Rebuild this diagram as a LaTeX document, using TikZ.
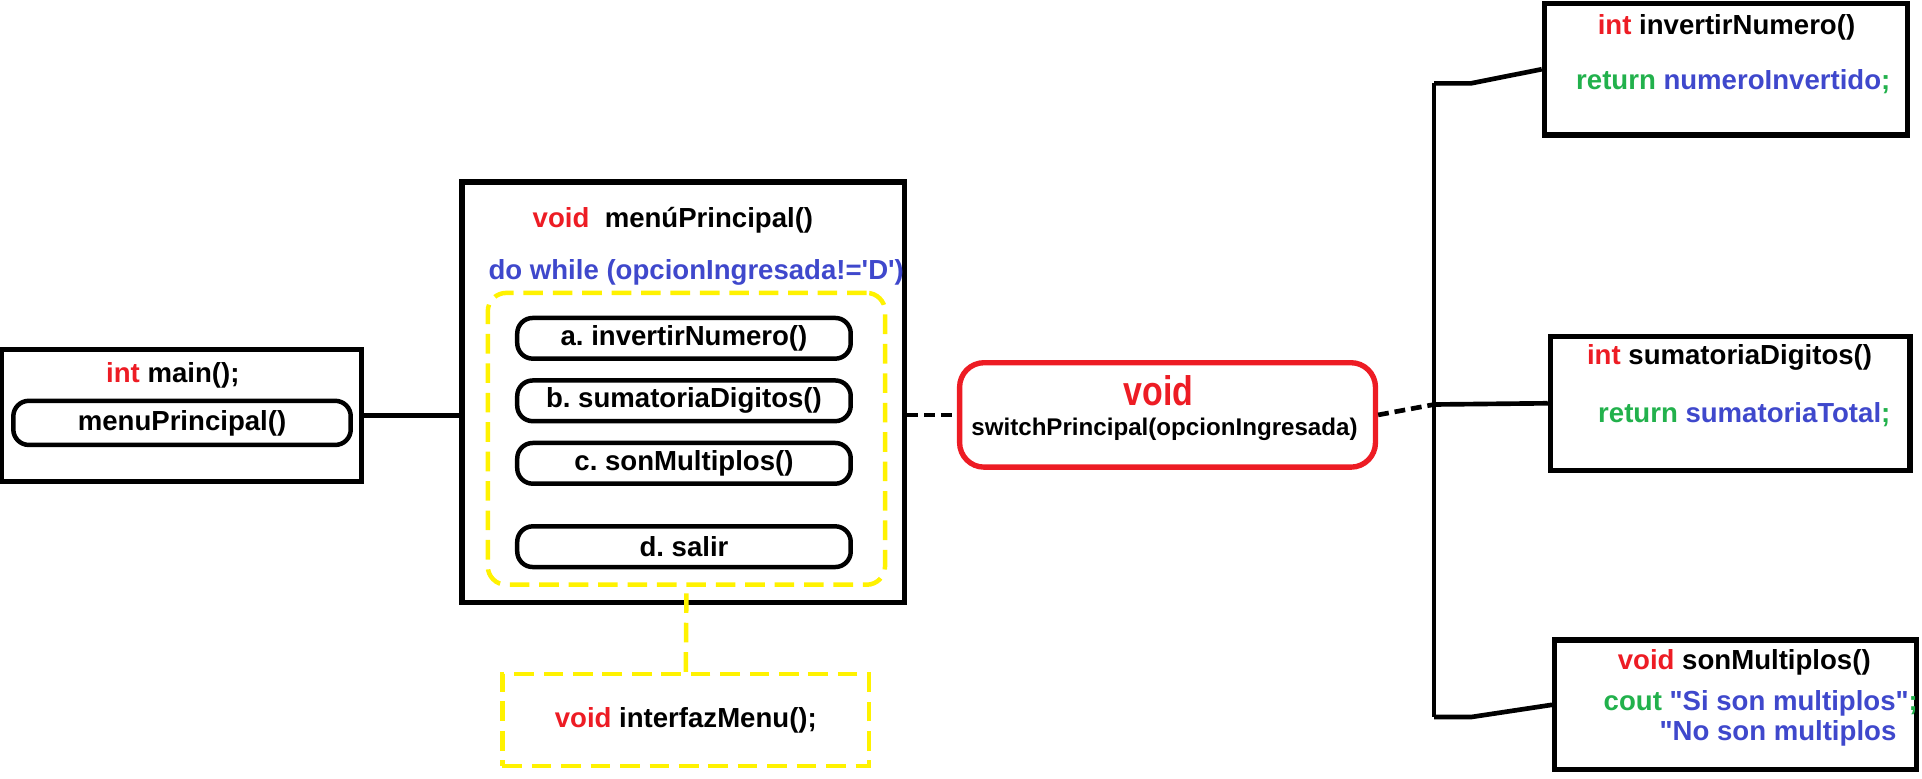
\documentclass[tikz,border=0pt]{standalone}
\usepackage{graphicx}
\usepackage{fontspec}
\setmainfont{Liberation Sans}
\frenchspacing
\definecolor{rojo}{RGB}{237,28,36}
\definecolor{azul}{RGB}{63,72,204}
\definecolor{verde}{RGB}{34,177,76}
\definecolor{amarillo}{RGB}{255,242,0}
\tikzset{
  caja/.style={draw=black, line width=3.1pt, inner sep=0pt},
  cajaroja/.style={draw=rojo, line width=3.1pt, rounded corners=0.5cm, inner sep=0pt},
  ovalo/.style={draw=black, line width=2.6pt, rounded corners=9pt, minimum width=6.8cm, minimum height=0.83cm, inner sep=0pt},
  punteado/.style={draw=amarillo, line width=2.6pt, dash pattern=on 0.4cm off 0.2cm},
  linea/.style={line width=2.7pt},
  guion/.style={line width=2.7pt, dash pattern=on 0.22cm off 0.12cm},
  texto/.style={inner sep=0pt}
}
\begin{document}
\begin{tikzpicture}[x=0.025cm, y=-0.025cm, font=\fontsize{16pt}{19pt}\selectfont\bfseries]
  \useasboundingbox (0,0) rectangle (1568,635);
  % main
  \node[caja, minimum width=7.35cm, minimum height=2.7cm] (main) at (148,339) {};
  \node[texto] (tmain) at (141,306) {\textcolor{rojo}{int} main();};
  \node[ovalo, minimum width=6.88cm, minimum height=0.9cm] (pmain) at (148.5,345) {menuPrincipal()};
  % menu principal
  \node[caja, minimum width=9.03cm, minimum height=8.58cm] (menu) at (557.5,320) {};
  \node[texto] (tmenu) at (549,180) {\textcolor{rojo}{void}\ \ menúPrincipal()};
  \node[texto, text=azul] (tdo) at (568,222) {do while (opcionIngresada!=\textquotesingle D\textquotesingle)};
  \node[punteado, rounded corners=0.375cm, minimum width=8.1cm, minimum height=5.95cm] (bucle) at (560,358) {};
  \node[ovalo] (opa) at (558,276) {a. invertirNumero()};
  \node[ovalo] (opb) at (558,327) {b. sumatoriaDigitos()};
  \node[ovalo] (opc) at (558,378) {c. sonMultiplos()};
  \node[ovalo] (opd) at (558,446) {d. salir};
  \node[punteado, minimum width=7.48cm, minimum height=1.88cm] (interfaz) at (559.5,587.5) {\textcolor{rojo}{void} interfazMenu();};
  \draw[punteado] (interfaz.north) -- (bucle.south);
  % switch
  \node[cajaroja, minimum width=8.48cm, minimum height=2.13cm] (switch) at (952.5,338.5) {};
  \node[texto, text=rojo, font=\fontsize{24pt}{28pt}\selectfont\bfseries] (tvoid) at (945,319) {\scalebox{0.82}[1]{void}};
  \node[texto, font=\fontsize{14pt}{17pt}\selectfont\bfseries] (tswitch) at (950,350) {switchPrincipal(opcionIngresada)};
  % funciones
  \node[caja, minimum width=7.4cm, minimum height=2.68cm] (inv) at (1408,56.5) {};
  \node[texto] (tinv) at (1408.5,22) {\textcolor{rojo}{int} invertirNumero()};
  \node[texto] (rinv) at (1414,66.6) {\textcolor{verde}{return} \textcolor{azul}{numeroInvertido}\textcolor{verde}{;}};
  \node[caja, minimum width=7.33cm, minimum height=2.73cm] (suma) at (1411.5,329) {};
  \node[texto] (tsuma) at (1411,292) {\textcolor{rojo}{int} sumatoriaDigitos()};
  \node[texto] (rsuma) at (1423,338.6) {\textcolor{verde}{return} \textcolor{azul}{sumatoriaTotal}\textcolor{verde}{;}};
  \node[caja, minimum width=7.38cm, minimum height=2.65cm] (mult) at (1416,575) {};
  \node[texto] (tmult) at (1423,540) {\textcolor{rojo}{void} sonMultiplos()};
  \node[texto] (cmult) at (1436.5,574) {\textcolor{verde}{cout} \textcolor{azul}{\textquotedbl Si son multiplos\textquotedbl}\textcolor{verde}{;}};
  \node[texto, text=azul] (nmult) at (1450.5,598) {\textquotedbl No son multiplos};
  % conexiones
  \coordinate (tope) at (1170,68);
  \coordinate (medio) at (1170,330);
  \coordinate (fondo) at (1170,585);
  \draw[linea] (main.east) -- (menu.west |- main.east);
  \draw[guion] (switch.west -| menu.east) -- (switch.west);
  \draw[guion] (switch.east) -- (medio);
  \draw[linea] (tope) -- (fondo);
  \draw[linea] (tope) -- ++(30,0) -- (inv.west);
  \draw[linea] (medio) -- (suma.west);
  \draw[linea] (fondo) -- ++(30,0) -- (mult.west);
\end{tikzpicture}
\end{document}
